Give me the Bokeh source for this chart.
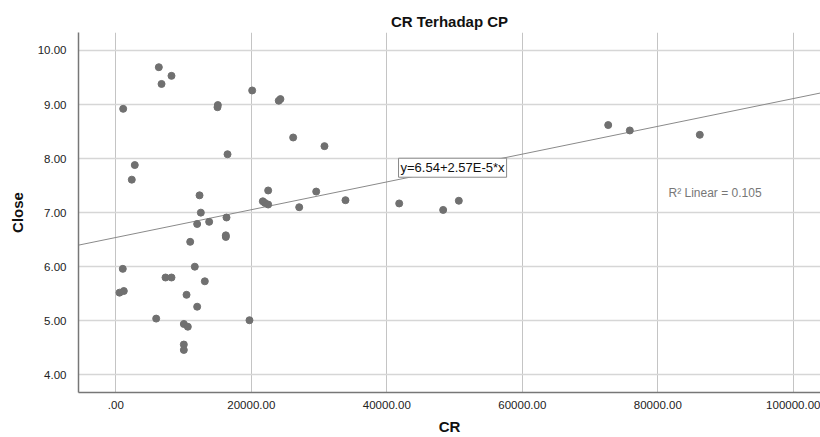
from bokeh.plotting import figure
from bokeh.models import Range1d, FixedTicker, Label
from bokeh.embed import file_html
from bokeh.resources import INLINE

# ---- data ----
cr = [6350, 8220, 6750, 1090, 15010, 15060, 20130, 24050, 24300, 26180,
      16490, 30800, 2800, 2360, 12360, 22490, 21700, 22000, 22490, 29580,
      27070, 33900, 41830, 48320, 50630, 72680, 75870, 86200, 12550, 12010,
      13780, 16340, 16240, 16240, 10980, 1030, 11660, 7340, 8220, 13140,
      550, 1180, 10440, 12010, 5960, 19730, 10040, 10630, 10040, 10040]
close = [9.69, 9.53, 9.38, 8.92, 8.95, 8.99, 9.26, 9.07, 9.10, 8.39,
         8.08, 8.23, 7.88, 7.61, 7.32, 7.41, 7.21, 7.18, 7.15, 7.39,
         7.10, 7.23, 7.17, 7.05, 7.22, 8.62, 8.52, 8.44, 7.00, 6.79,
         6.83, 6.91, 6.55, 6.58, 6.46, 5.96, 6.00, 5.80, 5.80, 5.73,
         5.52, 5.55, 5.48, 5.26, 5.04, 5.01, 4.94, 4.89, 4.56, 4.46]

x_ticks = [0, 20000, 40000, 60000, 80000, 100000]
x_tick_labels = [".00", "20000.00", "40000.00", "60000.00", "80000.00", "100000.00"]
y_ticks = [4, 5, 6, 7, 8, 9, 10]
y_tick_labels = ["4.00", "5.00", "6.00", "7.00", "8.00", "9.00", "10.00"]

intercept = 6.54
slope = 2.57e-5
equation = "y=6.54+2.57E-5*x"
r2_text = "R\u00b2 Linear = 0.105"

x_start, x_end = -5506, 104015
y_start, y_end = 3.673, 10.332

FONT = "Liberation Sans"

p = figure(width=820, height=437, output_backend="svg", toolbar_location=None,
           title="CR Terhadap CP",
           x_range=Range1d(x_start, x_end), y_range=Range1d(y_start, y_end),
           min_border_left=78, min_border_right=0, min_border_top=32,
           min_border_bottom=44)

p.title.align = "center"
p.title.offset = 7
p.title.text_font = FONT
p.title.text_font_size = "15px"
p.title.text_font_style = "bold"
p.title.text_color = "#111111"
p.title.standoff = 5

p.outline_line_color = None
p.background_fill_color = "white"

# grid
p.xgrid.ticker = FixedTicker(ticks=x_ticks)
p.ygrid.ticker = FixedTicker(ticks=y_ticks)
p.xgrid.grid_line_color = "#c4c4c4"
p.xgrid.grid_line_width = 1
p.ygrid.grid_line_color = "#d6d6d6"
p.ygrid.grid_line_width = 1.5

# axes
for ax in (p.xaxis[0], p.yaxis[0]):
    ax.axis_line_color = "#777777"
    ax.axis_line_width = 1.5
    ax.major_tick_line_color = None
    ax.minor_tick_line_color = None
    ax.major_label_text_font = FONT
    ax.major_label_text_font_size = "11.5px"
    ax.major_label_text_color = "#222222"
    ax.axis_label_text_font = FONT
    ax.axis_label_text_font_size = "15px"
    ax.axis_label_text_font_style = "bold"
    ax.axis_label_text_color = "#111111"

p.xaxis.ticker = FixedTicker(ticks=x_ticks)
p.xaxis.major_label_overrides = {t: l for t, l in zip(x_ticks, x_tick_labels)}
p.yaxis.ticker = FixedTicker(ticks=y_ticks)
p.yaxis.major_label_overrides = {t: l for t, l in zip(y_ticks, y_tick_labels)}
p.xaxis.axis_label = "CR"
p.yaxis.axis_label = "Close"
p.xaxis.major_label_standoff = 2
p.xaxis.axis_label_standoff = 6
p.yaxis.major_label_standoff = 6
p.yaxis.axis_label_standoff = 9

# regression line across the x range
lx = [x_start, x_end]
ly = [intercept + slope * v for v in lx]
p.line(lx, ly, line_color="#8a8a8a", line_width=1)

# points
p.scatter(cr, close, size=7, fill_color="#707070", line_color="#707070")

# equation box
eq = Label(x=41730, y=7.655, text=equation, text_align="left", text_baseline="bottom",
           text_font=FONT, text_font_size="13px", text_color="#111111",
           padding=2, border_line_color="#8a8a8a", border_line_width=1,
           background_fill_color="white")
p.add_layout(eq)

r2 = Label(x=81580, y=7.36, text=r2_text, text_align="left", text_baseline="middle",
           text_font=FONT, text_font_size="12px", text_color="#777777")
p.add_layout(r2)

open("out.html", "w").write(file_html(p, INLINE))
